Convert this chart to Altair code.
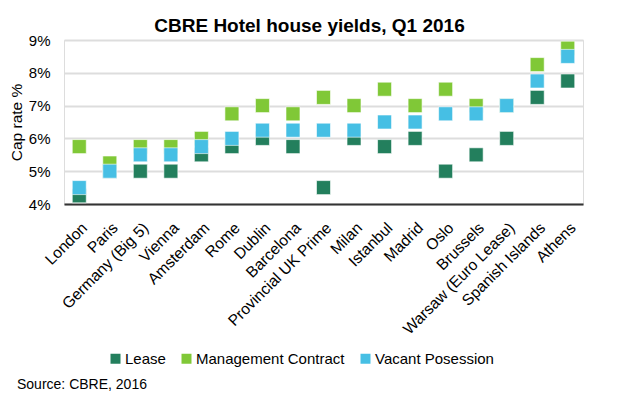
import altair as alt
import pandas as pd

cities = ["London", "Paris", "Germany (Big 5)", "Vienna", "Amsterdam", "Rome", "Dublin",
          "Barcelona", "Provincial UK Prime", "Milan", "Istanbul", "Madrid", "Oslo",
          "Brussels", "Warsaw (Euro Lease)", "Spanish Islands", "Athens"]
lease = [4.25, 5.0, 5.0, 5.0, 5.5, 5.75, 6.0, 5.75, 4.5, 6.0, 5.75, 6.0, 5.0, 5.5, 6.0, 7.25, 7.75]
management = [5.75, 5.25, 5.75, 5.75, 6.0, 6.75, 7.0, 6.75, 7.25, 7.0, 7.5, 7.0, 7.5, 7.0, 7.0, 8.25, 8.75]
vacant = [4.5, 5.0, 5.5, 5.5, 5.75, 6.0, 6.25, 6.25, 6.25, 6.25, 6.5, 6.5, 6.75, 6.75, 7.0, 7.75, 8.5]
series = ["Lease", "Management Contract", "Vacant Posession"]
colors = ["#237F5D", "#80C837", "#46BFE4"]
y_ticks = [4, 5, 6, 7, 8, 9]
source = "Source: CBRE, 2016"
title = "CBRE Hotel house yields, Q1 2016"

rows = []
for name, vals in zip(series, [lease, management, vacant]):
    for c, v in zip(cities, vals):
        rows.append({"city": c, "series": name, "value": v})
df = pd.DataFrame(rows)

FONT = "Liberation Sans"

points = alt.Chart(df).mark_point(
    shape="square", filled=True, size=196, opacity=1, stroke="white", strokeWidth=0.6
).encode(
    x=alt.X("city:N", sort=cities, title=None,
            scale=alt.Scale(paddingInner=0, paddingOuter=0),
            axis=alt.Axis(labelAngle=-45, labelFontSize=15.6, labelFont=FONT, labelColor="#000",
                          ticks=False, tickSize=0, domainColor="#333333", domainWidth=2,
                          labelPadding=16, grid=False)),
    y=alt.Y("value:Q", title="Cap rate %",
            scale=alt.Scale(domain=[4, 9], nice=False, zero=False),
            axis=alt.Axis(values=y_ticks, labelExpr="datum.value + '%'", labelFontSize=15,
                          labelFont=FONT, labelColor="#000", ticks=False, tickSize=0,
                          domain=False, gridColor="#DDDDDD", gridWidth=2, labelPadding=14,
                          titleFontSize=15.5, titleFont=FONT, titleFontWeight="normal",
                          titleColor="#000", titlePadding=4)),
    color=alt.Color("series:N", sort=series,
                    scale=alt.Scale(domain=series, range=colors),
                    legend=alt.Legend(title=None, orient="none", direction="horizontal",
                                      legendX=44, legendY=311, symbolType="square",
                                      symbolSize=100, symbolStrokeWidth=0, labelFontSize=15,
                                      labelFont=FONT, labelColor="#000", labelOffset=2,
                                      columnPadding=13)),
)

src = alt.Chart(pd.DataFrame({"t": [source]})).mark_text(
    align="left", baseline="middle", fontSize=14, font=FONT, color="#000"
).encode(x=alt.value(-47), y=alt.value(344.5), text="t:N")

chart = alt.layer(points, src).properties(
    width=519, height=164,
    title=alt.TitleParams(title, fontSize=19, font=FONT, fontWeight="bold", color="#000",
                          anchor="middle", offset=9, dx=-14, dy=12),
    autosize=alt.AutoSizeParams(type="none"),
    padding={"left": 56, "top": 32, "right": 28, "bottom": 187},
).configure_view(stroke=None).configure(background="white")

chart.save("out.html", embed_options={"renderer": "svg", "actions": False})
